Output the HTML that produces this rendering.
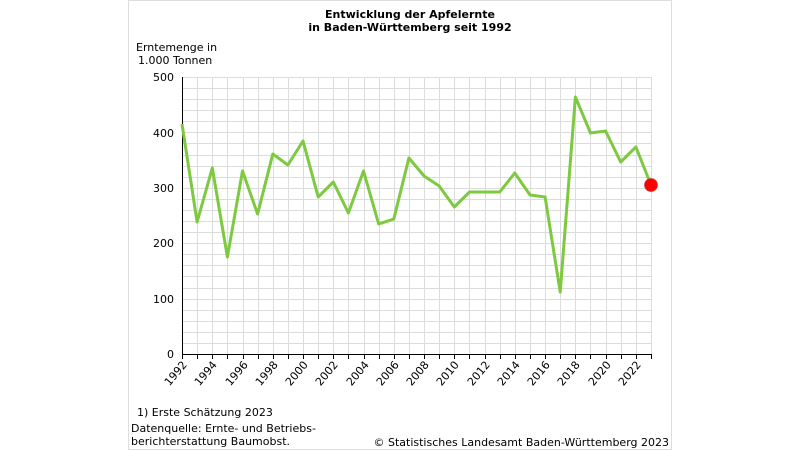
<!DOCTYPE html>
<html><head><meta charset="utf-8"><style>
body{margin:0;background:#fff;}
svg{display:block;font-family:"DejaVu Sans","Liberation Sans",sans-serif;}
</style></head><body>
<svg width="800" height="450" viewBox="0 0 800 450">
<rect x="0" y="0" width="800" height="450" fill="#fff"/>
<rect x="128.5" y="0.5" width="543" height="449" fill="#fff" stroke="#ddd"/>
<text x="410" y="18" font-size="11" font-weight="bold" text-anchor="middle" fill="#000">Entwicklung der Apfelernte</text>
<text x="410" y="31" font-size="11" font-weight="bold" text-anchor="middle" fill="#000">in Baden-Württemberg seit 1992</text>
<text x="136" y="51" font-size="11" fill="#000">Erntemenge in</text>
<text x="138" y="64" font-size="11" fill="#000">1.000 Tonnen</text>
<g id="grid" stroke="#dcdcdc" stroke-width="1"></g>
<g font-size="11" fill="#000" text-anchor="end">
<text x="174" y="81">500</text><text x="174" y="137">400</text><text x="174" y="192">300</text><text x="174" y="247">200</text><text x="174" y="303">100</text><text x="174" y="358">0</text>
</g>
<line x1="182.5" y1="77" x2="182.5" y2="354" stroke="#000"/>
<line x1="182" y1="354.5" x2="652" y2="354.5" stroke="#000"/>
<g id="ticks" stroke="#000"></g>
<g id="xl" font-size="11" fill="#000"></g>
<polyline fill="none" stroke="#7dc940" stroke-width="3" stroke-linejoin="round" id="ln"/>
<circle cx="651" cy="185" r="6.5" fill="#f00" stroke="#c44" stroke-width="0.8"/>
<text x="137" y="416" font-size="11" fill="#000">1) Erste Schätzung 2023</text>
<text x="131" y="432" font-size="11" fill="#000">Datenquelle: Ernte- und Betriebs-</text>
<text x="131" y="445" font-size="11" fill="#000">berichterstattung Baumobst.</text>
<text x="669" y="446" font-size="11" fill="#000" text-anchor="end">© Statistisches Landesamt Baden-Württemberg 2023</text>
</svg>
<script>
var ns="http://www.w3.org/2000/svg";
var g=document.getElementById("grid"),t=document.getElementById("ticks"),xl=document.getElementById("xl");
var x0=182,dx=(651-182)/31;
function el(p,n,a){var e=document.createElementNS(ns,n);for(var k in a)e.setAttribute(k,a[k]);p.appendChild(e);return e;}
for(var v=20;v<=500;v+=20){var y=Math.round(354-v*0.554)+0.5;el(g,"line",{x1:183,x2:651,y1:y,y2:y});}
for(var i=1;i<=31;i++){var x=Math.round(x0+i*dx)+0.5;el(g,"line",{x1:x,x2:x,y1:77,y2:354});}
for(var i=0;i<=31;i++){var x=Math.round(x0+i*dx)+0.5;el(t,"line",{x1:x,x2:x,y1:354,y2:359});
 if(i%2==0){var tx=el(xl,"text",{x:0,y:0,"text-anchor":"end",transform:"translate("+(x+5)+",365) rotate(-50)"});tx.textContent=1992+i;}}
var ys=[124,222,168,257,171,214,154,165,141,197,182,213,171,224,219,158,176,186,207,192,192,192,173,195,197,292,97,133,131,162,147,185];
document.getElementById("ln").setAttribute("points",ys.map(function(y,i){return (x0+i*dx).toFixed(1)+","+y}).join(" "));
</script>
</body></html>
